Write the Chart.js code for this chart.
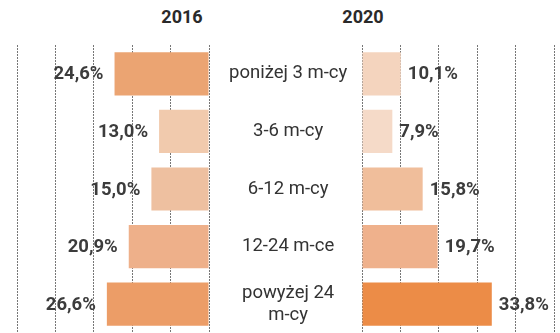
<!DOCTYPE html>
<html>
<head>
<meta charset="utf-8">
<script src="https://cdn.jsdelivr.net/npm/chart.js@4"></script>
<style>
  body { margin: 0; background: #fff; }
  #wrap { position: relative; width: 560px; height: 333px; overflow: hidden; font-family: Roboto, sans-serif; }
  .year { position: absolute; top: 6px; font-weight: bold; font-size: 18px; color: #2a2a2a; transform: translateX(-50%); }
  #leftBox { position: absolute; left: 0; top: 0; width: 362px; height: 333px; }
  #rightBox { position: absolute; left: 362px; top: 0; width: 198px; height: 333px; }
</style>
</head>
<body>
<div id="wrap">
  <div class="year" style="left:182px">2016</div>
  <div class="year" style="left:363px">2020</div>
  <div id="leftBox"><canvas id="leftChart"></canvas></div>
  <div id="rightBox"><canvas id="rightChart"></canvas></div>
</div>
<script>
  // Data
  const categories = ['poniżej 3 m-cy', '3-6 m-cy', '6-12 m-cy', '12-24 m-ce', ['powyżej 24', 'm-cy']];
  const values2016 = [24.6, 13.0, 15.0, 20.9, 26.6];
  const values2020 = [10.1, 7.9, 15.8, 19.7, 33.8];
  const xTicks = [0, 10, 20, 30, 40, 50];

  // Bar colours (shade follows the value)
  const colors2016 = ['#eba472', '#f1caad', '#eec0a0', '#eeb08a', '#ec9d67'];
  const colors2020 = ['#f4d4be', '#f5dac8', '#f0be9b', '#efb18c', '#ec8c47'];

  const fmt = v => v.toFixed(1).replace('.', ',') + '%';

  // Helper: draw the value next to each bar
  const valueLabels = {
    id: 'valueLabels',
    afterDatasetsDraw(chart, args, opts) {
      const ctx = chart.ctx;
      const meta = chart.getDatasetMeta(0);
      ctx.save();
      ctx.font = 'bold 18.5px Roboto, sans-serif';
      ctx.fillStyle = '#3c3c3c';
      ctx.textBaseline = 'middle';
      meta.data.forEach((bar, i) => {
        const v = chart.data.datasets[0].data[i];
        if (opts.side === 'left') {
          ctx.textAlign = 'right';
          ctx.fillText(fmt(v), bar.x - 11, bar.y + 1);
        } else {
          ctx.textAlign = 'left';
          ctx.fillText(fmt(v), bar.x + 7, bar.y + 1);
        }
      });
      ctx.restore();
    }
  };

  function xScale(reverse) {
    return {
      type: 'linear',
      min: 0,
      max: 50,
      reverse: reverse,
      afterBuildTicks: s => { s.ticks = xTicks.map(v => ({ value: v })); },
      ticks: { display: false },
      grid: { color: '#777', lineWidth: 1, drawTicks: false },
      border: { display: false, dash: [2, 1] }
    };
  }

  new Chart(document.getElementById('leftChart'), {
    type: 'bar',
    data: {
      labels: categories,
      datasets: [{
        data: values2016,
        backgroundColor: colors2016,
        barPercentage: 0.75,
        categoryPercentage: 1
      }]
    },
    options: {
      indexAxis: 'y',
      responsive: true,
      maintainAspectRatio: false,
      animation: false,
      layout: { padding: { top: 45, left: 17, right: 0, bottom: 0 } },
      plugins: { legend: { display: false }, tooltip: { enabled: false }, valueLabels: { side: 'left' } },
      scales: {
        x: xScale(true),
        y: {
          position: 'right',
          afterFit: s => { s.width = 153; s.paddingTop = 0; s.paddingBottom = 0; },
          grid: { display: false },
          border: { display: false },
          ticks: {
            crossAlign: 'center',
            padding: 12,
            color: '#333',
            font: { family: 'Roboto', size: 18.5, lineHeight: 1.2 }
          }
        }
      }
    },
    plugins: [valueLabels]
  });

  new Chart(document.getElementById('rightChart'), {
    type: 'bar',
    data: {
      labels: categories,
      datasets: [{
        data: values2020,
        backgroundColor: colors2020,
        barPercentage: 0.75,
        categoryPercentage: 1
      }]
    },
    options: {
      indexAxis: 'y',
      responsive: true,
      maintainAspectRatio: false,
      animation: false,
      layout: { padding: { top: 45, left: 0, right: 6, bottom: 0 } },
      plugins: { legend: { display: false }, tooltip: { enabled: false }, valueLabels: { side: 'right' } },
      scales: {
        x: xScale(false),
        y: { display: false }
      }
    },
    plugins: [valueLabels]
  });
</script>
</body>
</html>
